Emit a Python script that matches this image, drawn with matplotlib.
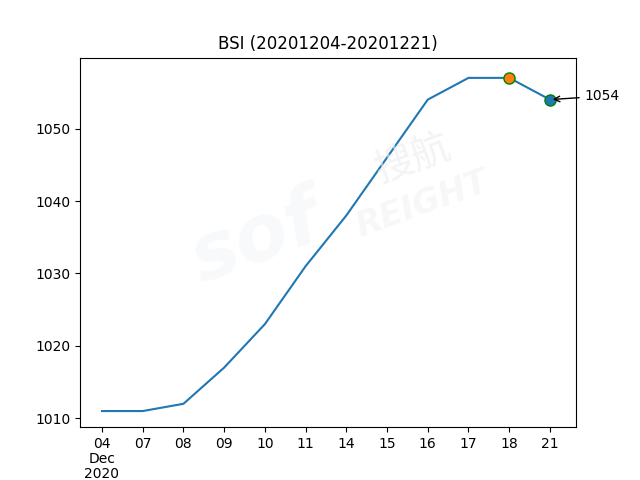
import matplotlib
matplotlib.use("Agg")
import matplotlib.pyplot as plt

dates = ["04", "07", "08", "09", "10", "11", "14", "15", "16", "17", "18", "21"]
values = [1011, 1011, 1012, 1017, 1023, 1031, 1038, 1046, 1054, 1057, 1057, 1054]
title = "BSI (20201204-20201221)"

fig, ax = plt.subplots(figsize=(6.4, 4.8), dpi=100)
x = list(range(len(dates)))
ax.plot(x, values, color="C0")
ax.plot(x[-2], values[-2], marker="o", ms=8, mfc="C1", mec="green", ls="none")
ax.plot(x[-1], values[-1], marker="o", ms=8, mfc="C0", mec="green", ls="none")
ax.annotate(str(values[-1]), xy=(x[-1], values[-1]), xytext=(25, 2.5),
            textcoords="offset points", va="center", fontsize=10,
            arrowprops=dict(arrowstyle="->", color="black"), annotation_clip=False)

labels = [d for d in dates]
labels[0] = "04\nDec\n2020"
ax.set_xticks(x)
ax.set_xticklabels(labels, linespacing=1.1)
ax.set_xlim(-0.54, 11.64)
ax.set_ylim(1008.77, 1059.8)
ax.set_title(title)

# faint watermark
fig.text(0.40, 0.50, "sof", fontsize=56, fontweight="bold", style="italic",
         color="#f0f4f8", alpha=0.5, rotation=20, ha="center", va="center", zorder=0)
fig.text(0.645, 0.67, "搜航", fontsize=28, color="#ececec", alpha=0.6, rotation=20,
         ha="center", va="center", family=["Noto Sans CJK SC", "DejaVu Sans"], zorder=0)
fig.text(0.66, 0.575, "REIGHT", fontsize=24, fontweight="bold", style="italic",
         color="#f2f2f2", alpha=0.6, rotation=20, ha="center", va="center", zorder=0)

fig.savefig("out.png", dpi=100)
